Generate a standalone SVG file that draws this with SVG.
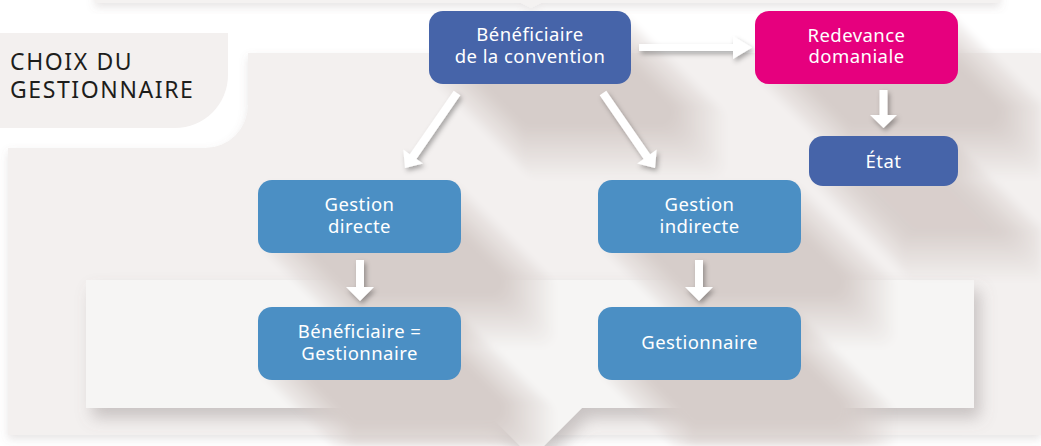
<svg xmlns="http://www.w3.org/2000/svg" width="1041" height="446" viewBox="0 0 1041 446">
  <defs>
    <style>
      .node-dark { fill: #4664a9; }
      .node-light { fill: #4b8fc4; }
      .node-pink { fill: #e6007e; }
      .lbl { font-family: "Noto Sans", "DejaVu Sans", sans-serif; font-size: 18.5px; fill: #ffffff; text-anchor: middle; letter-spacing: 0.45px; }
      .title { font-family: "Noto Sans", "DejaVu Sans", sans-serif; font-size: 23px; fill: #1d1d1b; letter-spacing: 1.6px; }
      .arrow { fill: #ffffff; }
    </style>
    <filter id="longShadow" filterUnits="userSpaceOnUse" x="0" y="0" width="1041" height="446" color-interpolation-filters="sRGB">
      <feOffset in="SourceAlpha" dx="1.5" dy="1.5" result="o0"/>
      <feComposite in="SourceAlpha" in2="o0" operator="arithmetic" k2="0.5" k3="0.5" result="a0"/>
      <feOffset in="a0" dx="3" dy="3" result="o1"/>
      <feComposite in="a0" in2="o1" operator="arithmetic" k2="0.5" k3="0.5" result="a1"/>
      <feOffset in="a1" dx="6" dy="6" result="o2"/>
      <feComposite in="a1" in2="o2" operator="arithmetic" k2="0.5" k3="0.5" result="a2"/>
      <feOffset in="a2" dx="12" dy="12" result="o3"/>
      <feComposite in="a2" in2="o3" operator="arithmetic" k2="0.5" k3="0.5" result="a3"/>
      <feOffset in="a3" dx="24" dy="24" result="o4"/>
      <feComposite in="a3" in2="o4" operator="arithmetic" k2="0.5" k3="0.5" result="a4"/>
      <feOffset in="a4" dx="48" dy="48" result="o5"/>
      <feComposite in="a4" in2="o5" operator="arithmetic" k2="0.5" k3="0.5" result="a5"/>
      <feComponentTransfer in="a5" result="a6">
        <feFuncA type="linear" slope="1.8" intercept="0"/>
      </feComponentTransfer>
      <feGaussianBlur in="a6" stdDeviation="3" result="b"/>
      <feFlood flood-color="#d6cdca" result="f"/>
      <feComposite in="f" in2="b" operator="in"/>
    </filter>
    <filter id="arrowShadow" x="-50%" y="-50%" width="200%" height="200%">
      <feDropShadow dx="2" dy="3" stdDeviation="2.5" flood-color="#000000" flood-opacity="0.32"/>
    </filter>
    <filter id="panelShadow" x="-5%" y="-10%" width="115%" height="140%">
      <feDropShadow dx="6" dy="10" stdDeviation="8" flood-color="#7a706d" flood-opacity="0.35"/>
    </filter>
    <filter id="softShadow" x="-5%" y="-10%" width="110%" height="130%">
      <feDropShadow dx="0" dy="4" stdDeviation="4" flood-color="#7a706d" flood-opacity="0.18"/>
    </filter>
  </defs>

  <rect x="0" y="0" width="1041" height="446" fill="#ffffff"/>

  <!-- top strip from previous section -->
  <g id="top-strip" filter="url(#softShadow)">
    <path d="M95 -20 H1000 V3 H541 L531 8 L521 3 H95 Z" fill="#f4f2f1"/>
  </g>

  <!-- title panel -->
  <g id="title-panel">
    <path d="M0 33 H228 V75 A53 53 0 0 1 175 128 H0 Z" fill="#f3f0ef"/>
    <text class="title" x="10" y="70">CHOIX DU</text>
    <text class="title" x="10" y="98">GESTIONNAIRE</text>
  </g>

  <!-- main panel -->
  <g id="main-panel" filter="url(#softShadow)">
    <path d="M8 148 H205 A43 43 0 0 0 248 105 V53 H1041 V435 H8 Z" fill="#f3f0ef"/>
  </g>

  <!-- inner panel -->
  <g id="inner-panel" filter="url(#panelShadow)">
    <path d="M86 280 H974 V408 H582 L532 458 L482 408 H86 Z" fill="#f6f5f4"/>
  </g>

  <!-- long shadows of nodes -->
  <g id="node-shadows" filter="url(#longShadow)">
    <rect x="429" y="11" width="202" height="73" rx="14"/>
    <rect x="755" y="11" width="203" height="73" rx="14"/>
    <rect x="809" y="136" width="149" height="50" rx="14"/>
    <rect x="258" y="180" width="203" height="73" rx="14"/>
    <rect x="258" y="307" width="203" height="73" rx="14"/>
    <rect x="598" y="180" width="203" height="73" rx="14"/>
    <rect x="598" y="307" width="203" height="73" rx="14"/>
  </g>

  <!-- connectors -->
  <g id="connectors" class="arrow" filter="url(#arrowShadow)">
    <polygon id="c-benef-redev" points="639,44 733,44 733,36 752,47.5 733,59 733,51 639,51"/>
    <polygon id="c-redev-etat" points="879.5,90 887.5,90 887.5,115 897,115 883.5,128 870,115 879.5,115"/>
    <polygon id="c-benef-gdir" points="453.7,90.7 460.3,95.3 416.4,158.9 422.9,163.6 405,168 403.3,149.6 409.8,154.3"/>
    <polygon id="c-benef-gind" points="606.3,90.7 599.7,95.3 643.6,158.9 637.1,163.6 655,168 656.7,149.6 650.2,154.3"/>
    <polygon id="c-gdir-bg" points="356,260 364,260 364,287 374,287 360,301 346,287 356,287"/>
    <polygon id="c-gind-gest" points="695,260 703,260 703,287 713,287 699,301 685,287 695,287"/>
  </g>

  <!-- nodes -->
  <g id="n-benef">
    <rect class="node-dark" x="429" y="11" width="202" height="73" rx="14"/>
    <text class="lbl" x="530" y="41">Bénéficiaire</text>
    <text class="lbl" x="530" y="63">de la convention</text>
  </g>
  <g id="n-redev">
    <rect class="node-pink" x="755" y="11" width="203" height="73" rx="14"/>
    <text class="lbl" x="856.5" y="41.5">Redevance</text>
    <text class="lbl" x="856.5" y="63">domaniale</text>
  </g>
  <g id="n-etat">
    <rect class="node-dark" x="809" y="136" width="149" height="50" rx="14"/>
    <text class="lbl" x="883.5" y="167.5">État</text>
  </g>
  <g id="n-gdir">
    <rect class="node-light" x="258" y="180" width="203" height="73" rx="14"/>
    <text class="lbl" x="359.5" y="211">Gestion</text>
    <text class="lbl" x="359.5" y="232.5">directe</text>
  </g>
  <g id="n-bg">
    <rect class="node-light" x="258" y="307" width="203" height="73" rx="14"/>
    <text class="lbl" x="359.5" y="338">Bénéficiaire =</text>
    <text class="lbl" x="359.5" y="359.5">Gestionnaire</text>
  </g>
  <g id="n-gind">
    <rect class="node-light" x="598" y="180" width="203" height="73" rx="14"/>
    <text class="lbl" x="699.5" y="211">Gestion</text>
    <text class="lbl" x="699.5" y="232.5">indirecte</text>
  </g>
  <g id="n-gest">
    <rect class="node-light" x="598" y="307" width="203" height="73" rx="14"/>
    <text class="lbl" x="699.5" y="349">Gestionnaire</text>
  </g>
</svg>
